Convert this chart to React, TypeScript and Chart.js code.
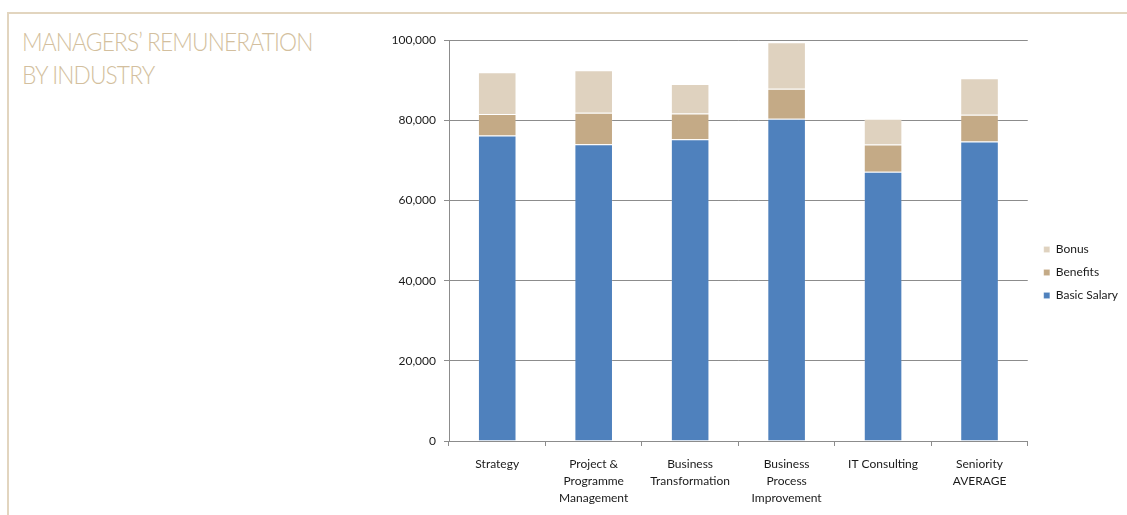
import React, { useEffect, useRef } from "react";
import { Chart, registerables } from "chart.js";

Chart.register(...registerables);

const categories: string[][] = [
  ["Strategy"],
  ["Project &", "Programme", "Management"],
  ["Business", "Transformation"],
  ["Business", "Process", "Improvement"],
  ["IT Consulting"],
  ["Seniority", "AVERAGE"],
];

const basicSalary = [76200, 74050, 75300, 80400, 67200, 74700];
const benefits = [5400, 7850, 6400, 7500, 6800, 6700];
const bonus = [10400, 10600, 7400, 11600, 6400, 9100];

const yTicks = [0, 20000, 40000, 60000, 80000, 100000];

const titleLines = ["MANAGERS’ REMUNERATION", "BY INDUSTRY"];

const FONT = "Lato, 'Open Sans', sans-serif";
const GRID = "#8c8c8c";

export default function App() {
  const ref = useRef<HTMLCanvasElement | null>(null);

  useEffect(() => {
    if (!ref.current) return;
    const shiftLegend = {
      id: "shiftLegend",
      afterLayout(chart: any) {
        const l = chart.legend;
        if (l) {
          l.left += 5;
          l.right += 5;
        }
      },
    };
    const chart = new Chart(ref.current, {
      type: "bar",
      data: {
        labels: categories,
        datasets: [
          {
            label: "Basic Salary",
            data: basicSalary,
            backgroundColor: "#4f81bd",
            borderColor: "rgba(255,255,255,0.12)",
            borderWidth: 1,
          },
          {
            label: "Benefits",
            data: benefits,
            backgroundColor: "#c4aa86",
            borderColor: "rgba(255,255,255,0.12)",
            borderWidth: 1,
          },
          {
            label: "Bonus",
            data: bonus,
            backgroundColor: "#dfd2bf",
            borderColor: "rgba(255,255,255,0.2)",
            borderWidth: 1,
          },
        ],
      },
      options: {
        animation: false,
        responsive: false,
        maintainAspectRatio: false,
        layout: { padding: { left: 22, right: 4, top: 13, bottom: 8 } },
        datasets: { bar: { barPercentage: 0.4, categoryPercentage: 1.0 } },
        plugins: {
          title: { display: false },
          tooltip: { enabled: false },
          legend: {
            position: "right",
            reverse: true,
            labels: {
              boxWidth: 6,
              boxHeight: 6,
              padding: 11,
              color: "#1a1a1a",
              font: { family: FONT, size: 12 },
            },
          },
        },
        scales: {
          x: {
            stacked: true,
            afterFit: (scale: any) => {
              scale.height = 66;
            },
            grid: {
              display: true,
              drawOnChartArea: false,
              drawTicks: true,
              tickLength: 5,
              color: GRID,
              offset: true,
            },
            border: { display: true, color: GRID, width: 1 },
            ticks: {
              color: "#1a1a1a",
              padding: 10,
              maxRotation: 0,
              autoSkip: false,
              font: { family: FONT, size: 12, lineHeight: 1.42 },
            },
          },
          y: {
            stacked: true,
            min: 0,
            max: 100000,
            afterFit: (scale: any) => {
              scale.width = 57;
            },
            afterBuildTicks: (scale: any) => {
              scale.ticks = yTicks.map((v) => ({ value: v }));
            },
            grid: {
              color: GRID,
              lineWidth: 1,
              drawTicks: true,
              tickLength: 5,
            },
            border: { display: true, color: GRID, width: 1 },
            ticks: {
              color: "#1a1a1a",
              padding: 8,
              font: { family: FONT, size: 12 },
              callback: (v: any) => Number(v).toLocaleString("en-US"),
            },
          },
        },
      },
      plugins: [shiftLegend],
    });
    return () => chart.destroy();
  }, []);

  return (
    <div
      style={{
        position: "fixed",
        left: 0,
        top: 0,
        width: 1127,
        height: 515,
        background: "#ffffff",
        overflow: "hidden",
      }}
    >
      <div
        style={{
          position: "absolute",
          left: 7,
          top: 12,
          width: 1127,
          height: 510,
          borderTop: "2px solid #e2d5bf",
          borderLeft: "2px solid #e2d5bf",
        }}
      />
      <div
        style={{
          position: "absolute",
          left: 22,
          top: 25,
          fontFamily: FONT,
          fontWeight: 300,
          fontSize: 26,
          lineHeight: "33px",
          letterSpacing: -1,
          color: "#d3bf9e",
          whiteSpace: "nowrap",
          transform: "scaleX(0.875)",
          transformOrigin: "0 0",
        }}
      >
        {titleLines.map((t, i) => (
          <div key={i}>{t}</div>
        ))}
      </div>
      <canvas
        ref={ref}
        width={757}
        height={490}
        style={{ position: "absolute", left: 370, top: 25, width: 757, height: 490 }}
      />
    </div>
  );
}
